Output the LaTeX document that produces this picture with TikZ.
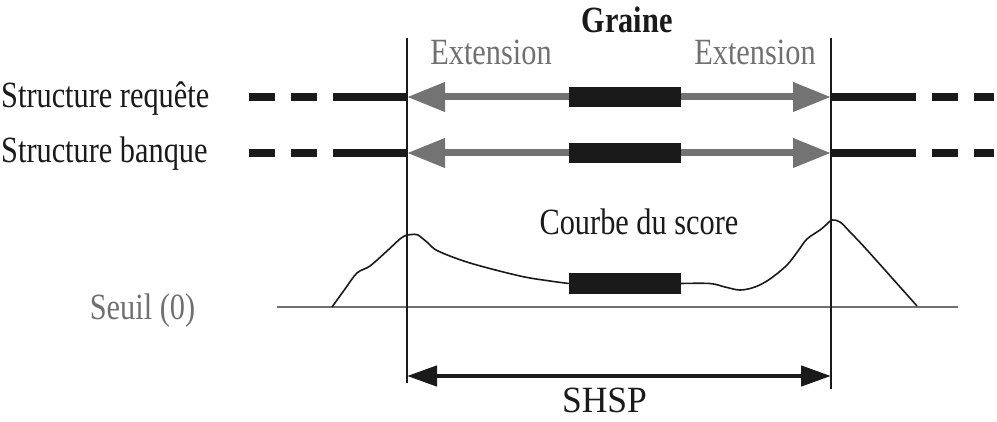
\documentclass[tikz,border=0pt]{standalone}
\usepackage{fontspec}
\setmainfont{Liberation Serif}[FakeStretch=0.82]
\newfontfamily\shspfont{Liberation Serif}[FakeStretch=0.96]
\usetikzlibrary{arrows.meta}
\definecolor{txtgray}{RGB}{112,112,112}
\definecolor{arrgray}{RGB}{115,115,115}
\definecolor{ink}{RGB}{26,26,26}
\begin{document}
\begin{tikzpicture}[x=1pt,y=-1pt,
  lbl/.style={font=\fontsize{37}{40}\selectfont, inner sep=0pt, anchor=base, text=ink},
  graylbl/.style={lbl, text=txtgray},
  strand/.style={line width=8pt, draw=ink},
  ext/.style={line width=7pt, draw=arrgray, {Triangle[length=38pt,width=28pt]}-{Triangle[length=38pt,width=28pt]}},
  seed/.style={fill=ink, draw=none, minimum width=112pt, minimum height=20pt, inner sep=0pt},
  bound/.style={line width=1.8pt, draw=ink},
  seuil/.style={line width=1.6pt, draw=txtgray},
  shsp/.style={line width=4.5pt, draw=ink, {Triangle[length=30pt,width=20pt]}-{Triangle[length=30pt,width=20pt]}},
  scorecurve/.style={line width=1.6pt, draw=ink}
]
\useasboundingbox (0,0) rectangle (997,422);

% texts
\node[lbl, font=\fontsize{37}{40}\selectfont\bfseries] (graine) at (627,33) {Graine};
\node[graylbl] (ext1) at (491,65) {Extension};
\node[graylbl] (ext2) at (755,65) {Extension};
\node[lbl, anchor=base west] (sreq) at (1,108) {Structure requête};
\node[lbl, anchor=base west] (sban) at (1,163) {Structure banque};
\node[lbl] (courbe) at (639,235) {Courbe du score};
\node[graylbl] (seuil) at (142.5,320) {Seuil (0)};
\node[lbl, font=\shspfont\fontsize{37}{40}\selectfont] (shsplbl) at (604.5,412) {SHSP};

% coordinates
\coordinate (qL0) at (249,97);  \coordinate (qL1) at (407,97);
\coordinate (qR0) at (831,97);  \coordinate (qR1) at (994,97);
\coordinate (bL0) at (249,153); \coordinate (bL1) at (407,153);
\coordinate (bR0) at (831,153); \coordinate (bR1) at (994,153);
\coordinate (vLt) at (407,38);  \coordinate (vLb) at (407,383);
\coordinate (vRt) at (831,38);  \coordinate (vRb) at (831,389);
\coordinate (sL) at (407,376);  \coordinate (sR) at (831,376);
\coordinate (th0) at (277,307); \coordinate (th1) at (958,307);

% structures
\draw[strand, dash pattern=on 26pt off 16pt on 26pt off 16pt on 300pt] (qL0) -- (qL1);
\draw[strand, dash pattern=on 85pt off 16pt on 26pt off 16pt on 60pt] (qR0) -- (qR1);
\draw[strand, dash pattern=on 26pt off 16pt on 26pt off 16pt on 300pt] (bL0) -- (bL1);
\draw[strand, dash pattern=on 85pt off 16pt on 26pt off 16pt on 60pt] (bR0) -- (bR1);
\draw[ext] (qL1) -- (qR0);
\draw[ext] (bL1) -- (bR0);
\node[seed] (seedq) at (625,97) {};
\node[seed] (seedb) at (625,153) {};

% threshold and curve
\draw[seuil] (th0) -- (th1);
\node[seed, minimum height=21pt] (seedc) at (625,283.5) {};
\draw[scorecurve] plot[smooth, tension=0.55] coordinates {(332,307) (345,289) (357,273) (370,266) (387,251) (400,239) (407,235) (412,234.5) (418,235) (428,243) (438,251) (470,263) (520,276) (550,281) (seedc.west)};
\draw[scorecurve] plot[smooth, tension=0.55] coordinates {(seedc.east) (710,283.5) (725,287) (740,290) (755,287) (770,279) (787,265) (798,251) (807,239) (820,230) (827,224) (832,220) (840,222) (850,232) (867,250) (917,306)};

% boundaries and SHSP
\draw[bound] (vLt) -- (vLb);
\draw[bound] (vRt) -- (vRb);
\draw[shsp] (sL) -- (sR);
\end{tikzpicture}
\end{document}
